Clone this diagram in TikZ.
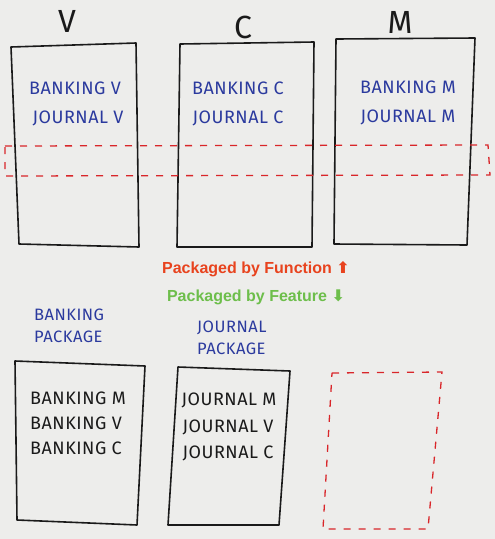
\documentclass[tikz,border=0pt]{standalone}
\usepackage{fontspec}
\setmainfont{Fira Sans}
\newfontfamily\labelfont{Liberation Sans}
\newfontfamily\symfont{DejaVu Sans}
\usetikzlibrary{calc}
\definecolor{board}{HTML}{EDEDEB}
\definecolor{ink}{HTML}{1A1A1A}
\definecolor{blueink}{HTML}{2B3A9E}
\definecolor{redink}{HTML}{D9262A}
\definecolor{funcred}{HTML}{E8431E}
\definecolor{featgreen}{HTML}{6DBE4B}
\tikzset{
  box/.style={draw=ink, line width=1.6pt, line join=round},
  redbox/.style={draw=redink, line width=1.3pt, dash pattern=on 7pt off 8pt},
  hand/.style={font=\fontsize{18}{20}\selectfont\addfontfeature{LetterSpace=3}, anchor=center, inner sep=0pt},
  bluehand/.style={hand, text=blueink},
  blackhand/.style={hand, text=ink},
  pkg/.style={font=\fontsize{16.5}{22}\selectfont\addfontfeature{LetterSpace=3}, text=blueink, align=left, anchor=west, inner sep=0pt},
  bigletter/.style={font=\fontsize{32}{34}\selectfont, text=ink},
  caption/.style={font=\labelfont\bfseries\fontsize{16}{18}\selectfont},
}
\begin{document}
\begin{tikzpicture}[x=1pt,y=-1pt]
\fill[board] (0,0) rectangle (495,539);
\useasboundingbox (0,0) rectangle (495,539);

% column letters
\node[bigletter] (lv) at (67,21) {V};
\node[bigletter] (lc) at (243,27) {C};
\node[bigletter] (lm) at (400,22) {M};

% top boxes
\draw[box] (11,47) -- (136,43) -- (139,247) -- (19,244) -- cycle;
\draw[box] (180,44) -- (314,42) -- (312,247) -- (177,247) -- cycle;
\draw[box] (336,39) -- (475,38) -- (467,245) -- (334,244) -- cycle;

\node[bluehand] (bv) at (75,88) {BANKING V};
\node[bluehand] (jv) at (78,118) {JOURNAL V};
\node[bluehand] (bc) at (238,88) {BANKING C};
\node[bluehand] (jc) at (238,118) {JOURNAL C};
\node[bluehand] (bm) at (408,87) {BANKING M};
\node[bluehand] (jm) at (408,117) {JOURNAL M};

% red dashed band across top boxes
\draw[redbox] (5,146) -- (488,145) -- (490,175) -- (5,176) -- cycle;

% captions
\node[caption, text=funcred] (func) at (256,269) {Packaged by Function {\symfont ⬆}};
\node[caption, text=featgreen] (feat) at (256,297) {Packaged by Feature {\symfont ⬇}};

% package labels
\node[pkg] (bp) at (34,326) {BANKING\\PACKAGE};
\node[pkg] (jp) at (197,338) {JOURNAL\\PACKAGE};

% bottom boxes
\draw[box] (15,361) -- (145,366) -- (137,525) -- (17,520) -- cycle;
\draw[box] (178,367) -- (290,371) -- (279,525) -- (168,525) -- cycle;
\draw[redbox] (332,373) -- (442,372) -- (428,529) -- (323,529) -- cycle;

\node[blackhand] (b1) at (78,398) {BANKING M};
\node[blackhand] (b2) at (76,423) {BANKING V};
\node[blackhand] (b3) at (76,448) {BANKING C};
\node[blackhand] (j1) at (229,400) {JOURNAL M};
\node[blackhand] (j2) at (228,427) {JOURNAL V};
\node[blackhand] (j3) at (228,453) {JOURNAL C};
\end{tikzpicture}
\end{document}
